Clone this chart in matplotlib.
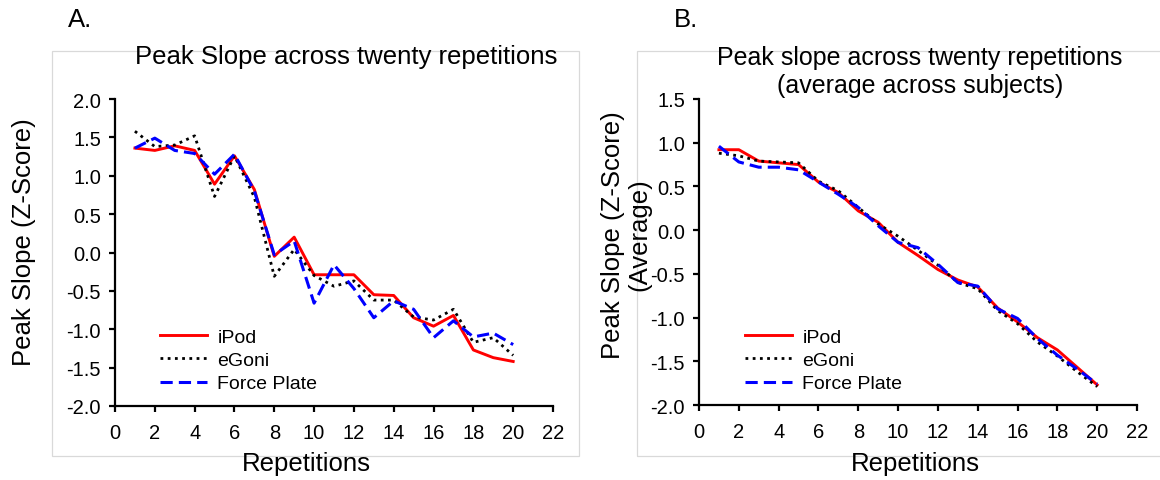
import matplotlib
matplotlib.use("Agg")
import matplotlib.pyplot as plt
from matplotlib.patches import Rectangle
from matplotlib.lines import Line2D
import numpy as np

plt.rcParams["font.family"] = ["Liberation Sans", "DejaVu Sans"]
plt.rcParams["axes.unicode_minus"] = False

# ── Data ──
reps = list(range(1, 21))

# A. z-scored peak slope per repetition
a_ipod  = [1.36, 1.33, 1.39, 1.33, 0.89, 1.26, 0.82, -0.05, 0.20, -0.29,
           -0.29, -0.29, -0.55, -0.56, -0.85, -0.96, -0.82, -1.27, -1.37, -1.42]
a_egoni = [1.58, 1.38, 1.40, 1.52, 0.73, 1.26, 0.72, -0.31, 0.04, -0.30,
           -0.44, -0.37, -0.62, -0.62, -0.84, -0.88, -0.74, -1.17, -1.11, -1.34]
a_force = [1.36, 1.49, 1.33, 1.29, 1.02, 1.28, 0.80, -0.03, 0.15, -0.66,
           -0.16, -0.47, -0.85, -0.63, -0.74, -1.11, -0.89, -1.10, -1.05, -1.20]

# B. average across subjects
b_ipod  = [0.92, 0.92, 0.79, 0.77, 0.75, 0.55, 0.43, 0.22, 0.09, -0.14,
           -0.29, -0.45, -0.57, -0.65, -0.89, -1.05, -1.23, -1.37, -1.57, -1.77]
b_egoni = [0.88, 0.85, 0.79, 0.78, 0.77, 0.56, 0.45, 0.26, 0.07, -0.07,
           -0.23, -0.40, -0.60, -0.67, -0.92, -1.07, -1.28, -1.44, -1.62, -1.79]
b_force = [0.96, 0.78, 0.72, 0.72, 0.69, 0.55, 0.41, 0.26, 0.05, -0.14,
           -0.20, -0.39, -0.60, -0.64, -0.90, -1.01, -1.24, -1.43, -1.59, -1.76]

x_ticks = list(range(0, 23, 2))
a_yticks = [-2.0, -1.5, -1.0, -0.5, 0.0, 0.5, 1.0, 1.5, 2.0]
b_yticks = [-2.0, -1.5, -1.0, -0.5, 0.0, 0.5, 1.0, 1.5]

W, H = 1160, 481
fig = plt.figure(figsize=(W / 100, H / 100), dpi=100)
fig.patch.set_facecolor("white")


def fx(px):
    return px / W


def fy(py):
    return 1 - py / H


# light chart-area borders
for x0, x1 in [(52, 579), (637, 1170)]:
    fig.patches.append(Rectangle((fx(x0), fy(457)), fx(x1 - x0), (457 - 52) / H,
                                 transform=fig.transFigure, fill=False,
                                 edgecolor="#d9d9d9", linewidth=0.9, zorder=0))

STYLES = [
    ("iPod",        dict(color="#ff0000", linestyle="-",  linewidth=2.1)),
    ("eGoni",       dict(color="black",   linestyle=(0, (1, 1.6)), linewidth=2.0)),
    ("Force Plate", dict(color="#0000ff", linestyle=(0, (4, 2)), linewidth=2.2)),
]


def setup(ax, ylim, yticks):
    ax.set_xlim(0, 22)
    ax.set_ylim(*ylim)
    ax.set_xticks(x_ticks)
    ax.set_yticks(yticks)
    ax.set_yticklabels([f"{v:.1f}" for v in yticks])
    for s in ["top", "right"]:
        ax.spines[s].set_visible(False)
    for s in ["left", "bottom"]:
        ax.spines[s].set_linewidth(1.6)
    ax.tick_params(axis="both", direction="out", length=4, width=1.6,
                   labelsize=14.5, pad=6)
    ax.tick_params(axis="x", pad=8)
    ax.patch.set_alpha(0)


ax1 = fig.add_axes([fx(115), fy(407), fx(553 - 115), (407 - 100) / H])
ax2 = fig.add_axes([fx(699), fy(406), fx(1137 - 699), (406 - 100) / H])

for ax, series in [(ax1, [a_ipod, a_egoni, a_force]),
                   (ax2, [b_ipod, b_egoni, b_force])]:
    for (name, st), vals in zip(STYLES, series):
        ax.plot(reps, vals, label=name, clip_on=False, **st)

setup(ax1, (-2.0, 2.0), a_yticks)
setup(ax2, (-2.0, 1.5), b_yticks)

handles = [Line2D([0], [0], **st) for _, st in STYLES]
labels = [name for name, _ in STYLES]
for ax, left in [(ax1, 160), (ax2, 745)]:
    ax.legend(handles, labels, loc="upper left",
              bbox_to_anchor=(fx(left), fy(329)), bbox_transform=fig.transFigure,
              frameon=False, fontsize=14, handlelength=2.4,
              handletextpad=0.55, labelspacing=0.3, borderpad=0, borderaxespad=0)

# titles, panel letters and axis labels
fig.text(fx(80), fy(20), "A.", fontsize=18.5, ha="center", va="center")
fig.text(fx(686), fy(20), "B.", fontsize=18.5, ha="center", va="center")
fig.text(fx(346), fy(57), "Peak Slope across twenty repetitions",
         fontsize=18.5, ha="center", va="center")
fig.text(fx(920), fy(72), "Peak slope across twenty repetitions\n(average across subjects)",
         fontsize=18, ha="center", va="center", multialignment="center",
         linespacing=1.2)

fig.text(fx(24), fy(242), "Peak Slope (Z-Score)", fontsize=18.5,
         rotation=90, ha="center", va="center")
fig.text(fx(626), fy(235), "Peak Slope (Z-Score)\n(Average)", fontsize=18.5,
         rotation=90, ha="center", va="center", multialignment="center",
         linespacing=1.15)

fig.text(fx(306), fy(464), "Repetitions", fontsize=18.5, ha="center", va="center")
fig.text(fx(915), fy(464), "Repetitions", fontsize=18.5, ha="center", va="center")

fig.savefig("out.png", dpi=100, facecolor="white")
